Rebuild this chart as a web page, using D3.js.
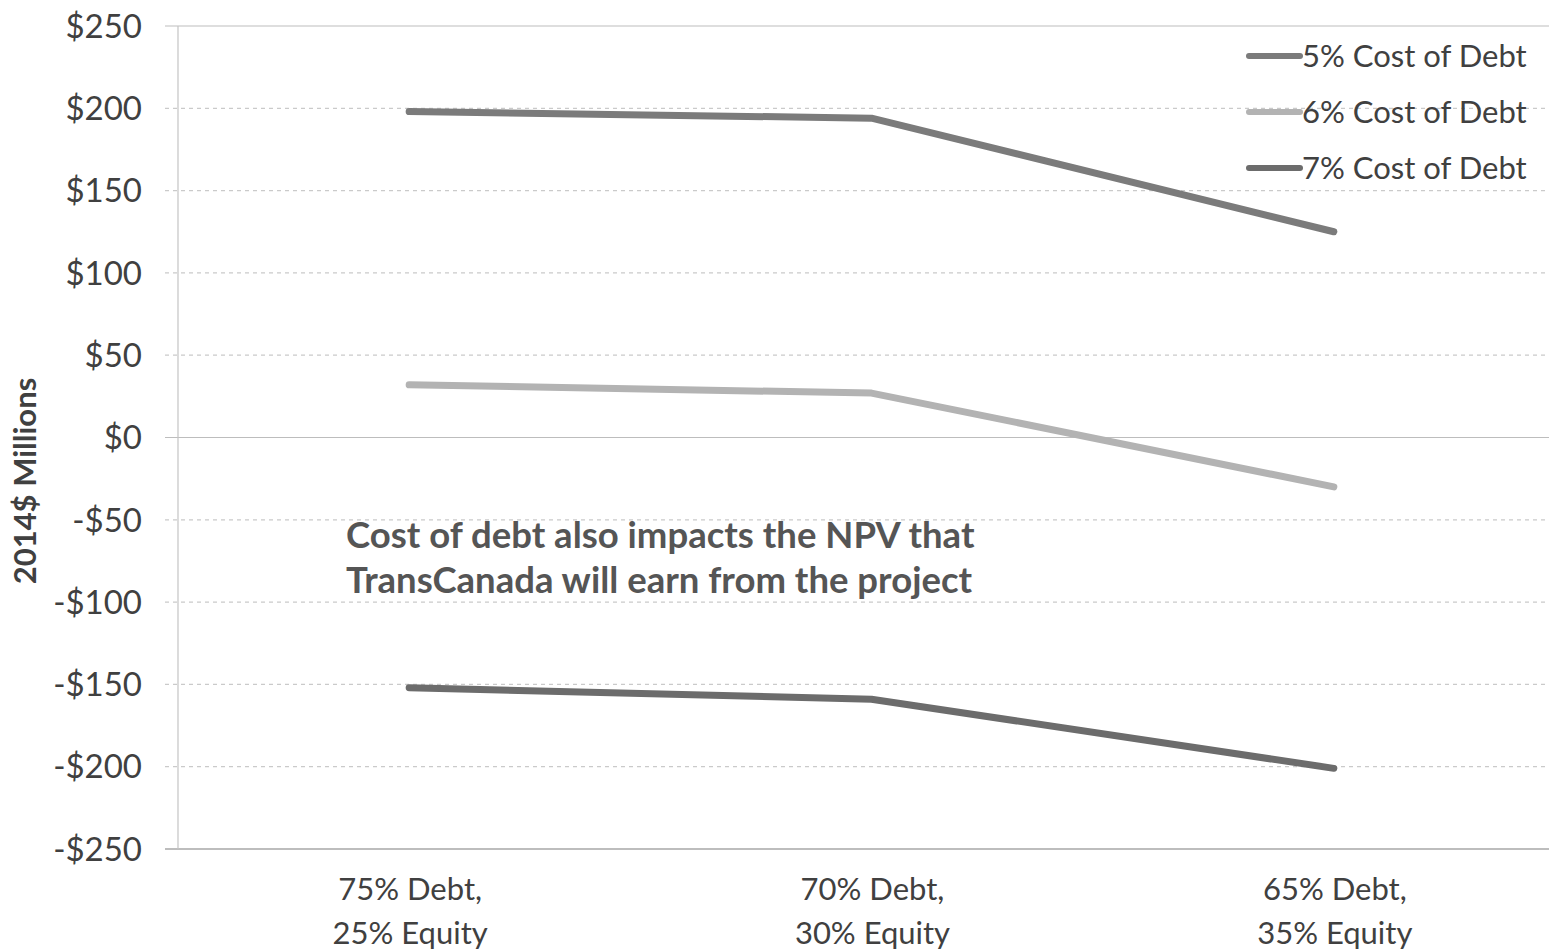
<!DOCTYPE html>
<html><head><meta charset="utf-8">
<script src="https://cdn.jsdelivr.net/npm/d3@7"></script>
<style>body{margin:0;background:#fff;}svg{display:block;}</style>
</head><body>
<svg id="c" width="1549" height="951"></svg>
<script>
const categories = [["75% Debt,","25% Equity"],["70% Debt,","30% Equity"],["65% Debt,","35% Equity"]];
const seriesNames = ["5% Cost of Debt","6% Cost of Debt","7% Cost of Debt"];
const debt5 = [198, 194, 125];
const debt6 = [32, 27, -30];
const debt7 = [-152, -159, -201];
const yTicks = [250,200,150,100,50,0,-50,-100,-150,-200,-250];
const colors = ["#7b7b7b","#b3b3b3","#6c6c6c"];
const annotation = ["Cost of debt also impacts the NPV that","TransCanada will earn from the project"];

const svg = d3.select("#c");
const L = 178, R = 1565, T = 26, B = 849;
const x = d3.scaleBand().domain([0,1,2]).range([L, R]);
const y = d3.scaleLinear().domain([-250, 250]).range([B, T]);
const font = "Lato, 'Open Sans', sans-serif";

// gridlines
const g = svg.append("g");
g.selectAll("line.grid").data(yTicks).join("line")
  .attr("x1", 165).attr("x2", 1549)
  .attr("y1", d => y(d)).attr("y2", d => y(d))
  .attr("stroke", d => (d===0||d===250||d===-250) ? "#bdbdbd" : "#cacaca")
  .attr("stroke-width", d => (d===-250) ? 2 : 1.2)
  .attr("stroke-dasharray", d => (d===0||d===250||d===-250) ? null : "4,4");
// vertical axis
g.append("line").attr("x1", L).attr("x2", L).attr("y1", T).attr("y2", B)
  .attr("stroke", "#c4c4c4").attr("stroke-width", 1.2);

// y labels
const yAxis = d3.axisLeft(y).tickValues(yTicks).tickSize(0).tickPadding(0)
  .tickFormat(d => (d < 0 ? "-$" : "$") + Math.abs(d));
const ya = svg.append("g").attr("transform", `translate(142,0)`).call(yAxis);
ya.select(".domain").remove();
ya.selectAll("text").attr("font-family", font).attr("font-size", 33)
  .attr("fill", "#404040").attr("dy", "0.34em");

// y title
svg.append("text").attr("transform", "translate(36,481) rotate(-90)")
  .attr("text-anchor", "middle").attr("font-family", font).attr("font-weight", "bold")
  .attr("font-size", 31).attr("fill", "#404040").text("2014$ Millions");

// x labels
const xl = svg.append("g");
categories.forEach((c, i) => {
  const cx = x(i) + x.bandwidth()/2 + 1;
  const t = xl.append("text").attr("text-anchor", "middle").attr("font-family", font)
    .attr("font-size", 31).attr("fill", "#404040");
  t.append("tspan").attr("x", cx).attr("y", 900).text(c[0]);
  t.append("tspan").attr("x", cx).attr("y", 944).text(c[1]);
});

// lines
const data = [debt5, debt6, debt7];
const line = d3.line().x((d, i) => x(i) + x.bandwidth()/2).y(d => y(d));
svg.append("g").selectAll("path").data(data).join("path")
  .attr("d", line).attr("fill", "none")
  .attr("stroke", (d, i) => colors[i]).attr("stroke-width", 7)
  .attr("stroke-linecap", "round").attr("stroke-linejoin", "round");

// legend
const lg = svg.append("g");
seriesNames.forEach((n, i) => {
  const yy = 56 + i * 56;
  lg.append("line").attr("x1", 1249).attr("x2", 1300).attr("y1", yy).attr("y2", yy)
    .attr("stroke", colors[i]).attr("stroke-width", 6).attr("stroke-linecap", "round");
  lg.append("text").attr("x", 1302).attr("y", yy).attr("dy", "0.36em")
    .attr("font-family", font).attr("font-size", 31).attr("fill", "#404040").text(n);
});

// annotation
annotation.forEach((s, i) => {
  svg.append("text").attr("x", 346).attr("y", 548 + i * 45)
    .attr("font-family", font).attr("font-weight", "bold").attr("font-size", 36.5)
    .attr("fill", "#555555").text(s);
});
</script>
</body></html>
